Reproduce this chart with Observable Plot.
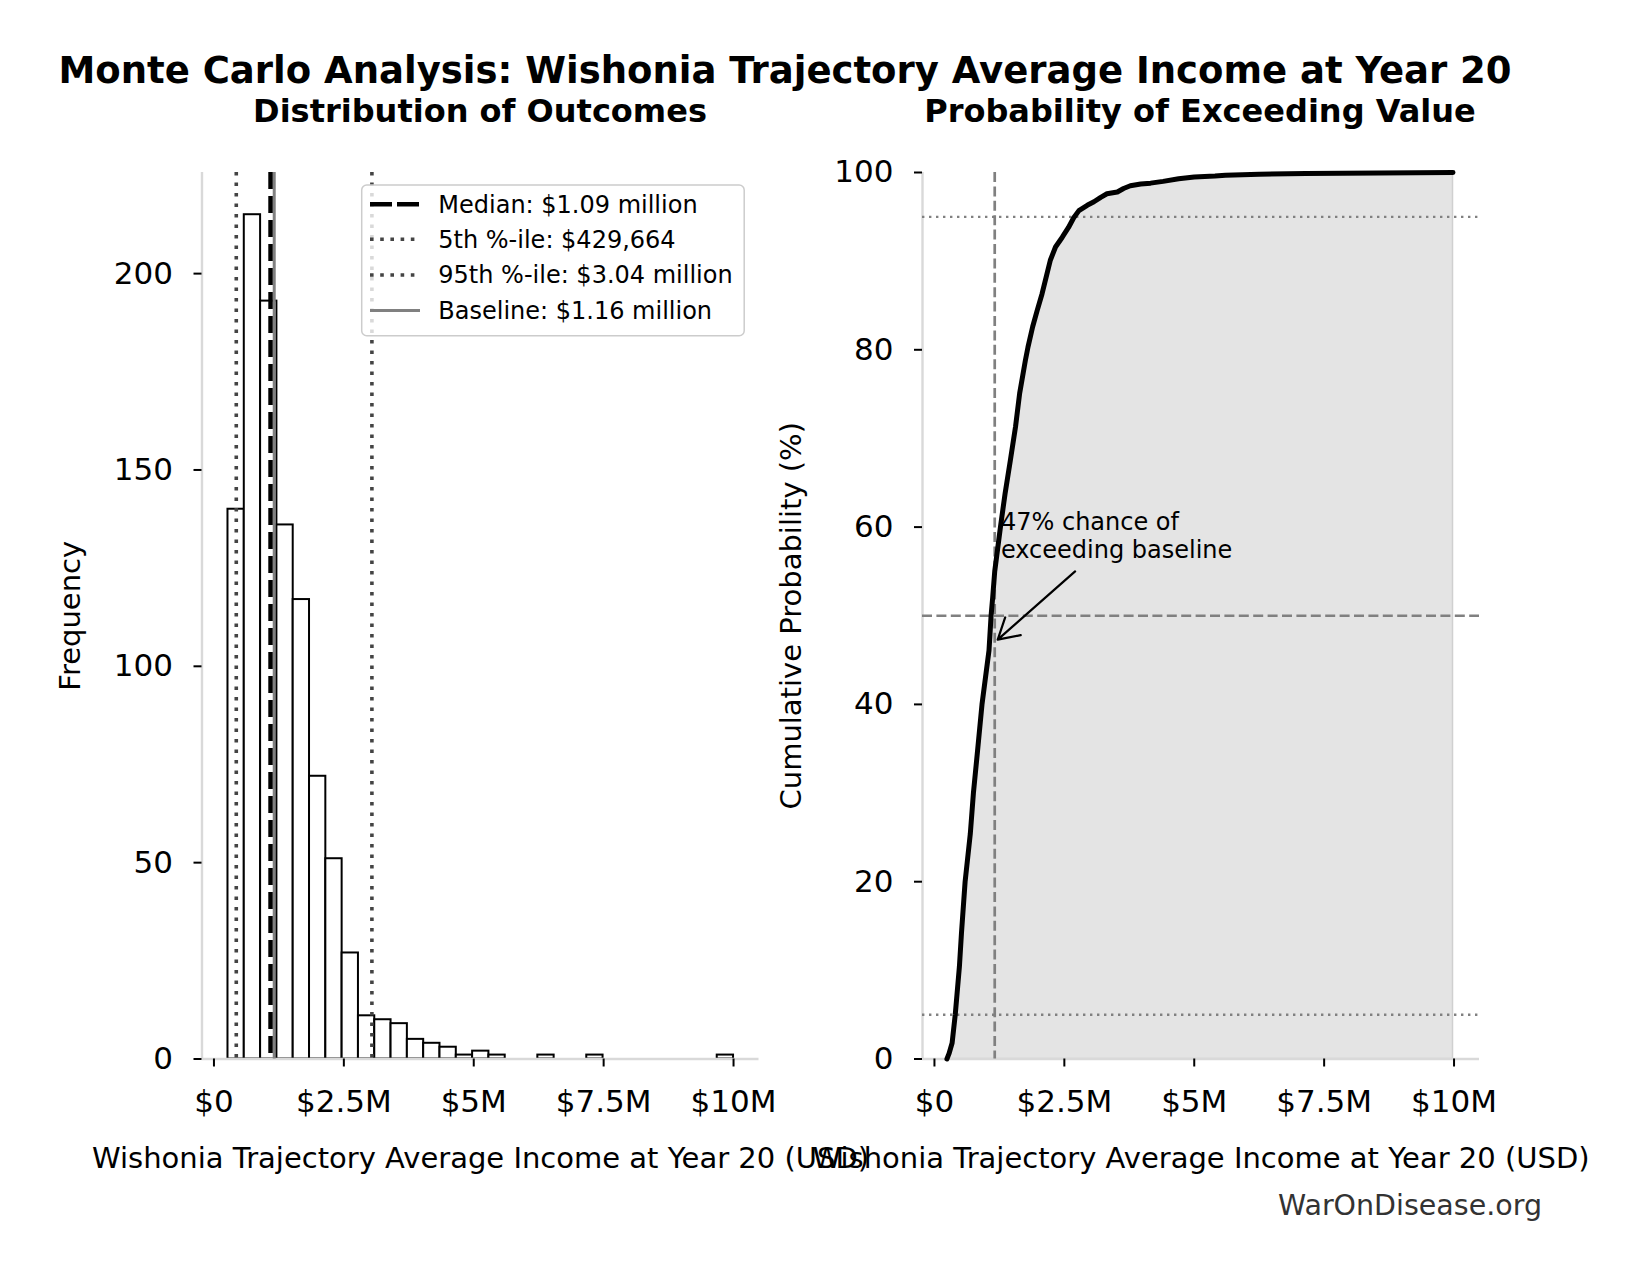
<!DOCTYPE html>
<html>
<head>
<meta charset="utf-8">
<script src="https://cdn.jsdelivr.net/npm/d3@7"></script>
<script src="https://cdn.jsdelivr.net/npm/@observablehq/plot@0.6"></script>
<style>
  html, body { margin: 0; padding: 0; background: #fff; }
  #fig { position: relative; width: 1644px; height: 1280px; background: #fff; overflow: hidden;
         font-family: "DejaVu Sans", sans-serif; color: #000; }
  #fig > svg { position: absolute; left: 0; top: 0; }
  .txt { position: absolute; white-space: nowrap; line-height: 1; }
</style>
</head>
<body>
<div id="fig"></div>
<script>
// ---------------- data ----------------
const mainTitle = "Monte Carlo Analysis: Wishonia Trajectory Average Income at Year 20";
const leftTitle = "Distribution of Outcomes";
const rightTitle = "Probability of Exceeding Value";
const xLabel = "Wishonia Trajectory Average Income at Year 20 (USD)";
const yLabelLeft = "Frequency";
const yLabelRight = "Cumulative Probability (%)";
const sourceText = "WarOnDisease.org";

// histogram (income in $ millions)
const binFirstEdge = 0.27;
const binLastEdge = 10.0;
const binCounts = [140, 215, 193, 136, 117, 72, 51, 27, 11, 10, 9, 5, 4, 3, 1, 2, 1, 0, 0, 1, 0, 0, 1, 0, 0, 0, 0, 0, 0, 0, 1];

// summary statistics ($ millions)
const p5 = 0.429664;
const median = 1.09;
const p95 = 3.04;
const baseline = 1.16;
const legendLabels = ["Median: $1.09 million", "5th %-ile: $429,664", "95th %-ile: $3.04 million", "Baseline: $1.16 million"];

const cdfIncome = [0.24, 0.28, 0.34, 0.40, 0.48, 0.52, 0.59, 0.69, 0.75, 0.83, 0.915, 1.05, 1.09, 1.12, 1.16, 1.27, 1.36, 1.46, 1.56, 1.64, 1.75, 1.80, 1.89, 1.975, 2.07, 2.15, 2.23, 2.33, 2.46, 2.58, 2.68, 2.78, 2.94, 3.07, 3.20, 3.32, 3.52, 3.64, 3.77, 3.97, 4.16, 4.40, 4.70, 5.00, 5.40, 5.60, 6.25, 7.15, 9.98];
const cdfPct    = [0, 0.6, 1.8, 5.0, 10.4, 14.2, 20.0, 25.4, 30.0, 34.8, 40.0, 46.1, 50.0, 52.0, 55.0, 60.0, 63.8, 67.5, 71.3, 75.1, 78.8, 80.3, 82.6, 84.4, 86.3, 88.2, 90.1, 91.6, 92.7, 93.8, 94.9, 95.7, 96.3, 96.7, 97.2, 97.6, 97.8, 98.2, 98.5, 98.7, 98.8, 99.0, 99.3, 99.5, 99.6, 99.7, 99.8, 99.9, 100];

const annotationText = "47% chance of\nexceeding baseline";
const annotationAt = {x: 1.28, y: 60};
const arrowFrom = {x: 2.707, y: 55};
const arrowTo = {x: baseline, y: 47};

const xTicks = [0, 2.5, 5, 7.5, 10];
const yTicksLeft = [0, 50, 100, 150, 200];
const yTicksRight = [0, 20, 40, 60, 80, 100];

// ---------------- build ----------------
const fig = document.getElementById("fig");
const nb = binCounts.length;
const bw = (binLastEdge - binFirstEdge) / nb;
const bins = binCounts.map((c, i) => ({x1: binFirstEdge + i * bw, x2: binFirstEdge + (i + 1) * bw, count: c}))
  .filter(d => d.count > 0);
const cdf = cdfIncome.map((v, i) => ({v, p: cdfPct[i]}));

const xDomain = [-0.23, 10.49];
const fmt = v => v === 0 ? "$0" : "$" + v + "M";
const spine = {stroke: "#d9d9d9", strokeWidth: 2.4};
const FONT = "DejaVu Sans";
const TICK_FS = 31;
const LABEL_FS = 29;

const common = {
  width: 1644, height: 1280,
  marginTop: 172, marginBottom: 221.5,
  x: {domain: xDomain},
  style: {background: "none", fontFamily: FONT, fontSize: "30px", color: "#000", overflow: "visible"}
};

const axisX = () => Plot.axisX({ticks: xTicks, tickFormat: fmt, tickSize: 8, tickPadding: 23, strokeWidth: 2, fontSize: TICK_FS, label: null});
const axisY = (ticks) => Plot.axisY({ticks, tickSize: 8, tickPadding: 21, strokeWidth: 2, fontSize: TICK_FS, label: null});
const xTitle = () => Plot.text([xLabel], {text: d => d, frameAnchor: "bottom", dy: 100, textAnchor: "middle", lineAnchor: "middle", fontSize: LABEL_FS, fill: "#000"});
const yTitle = (lab, dx) => Plot.text([lab], {text: d => d, frameAnchor: "left", dx, rotate: -90, textAnchor: "middle", lineAnchor: "middle", fontSize: LABEL_FS, fill: "#000"});

const left = Plot.plot({
  ...common,
  marginLeft: 201.5, marginRight: 885.5,
  y: {domain: [0, 225.75]},
  marks: [
    Plot.rect(bins, {x1: "x1", x2: "x2", y1: 0, y2: "count", fill: "white", stroke: "black", strokeWidth: 2}),
    Plot.ruleY([0], spine),
    Plot.ruleX([xDomain[0]], spine),
    Plot.ruleX([p5, p95], {stroke: "#444", strokeWidth: 3.6, strokeDasharray: "3.6,6.9"}),
    Plot.ruleX([median], {stroke: "black", strokeWidth: 4.6, strokeDasharray: "17,7"}),
    Plot.ruleX([baseline], {stroke: "#808080", strokeWidth: 3}),
    axisX(),
    axisY(yTicksLeft),
    xTitle(),
    yTitle(yLabelLeft, -131)
  ]
});

const right = Plot.plot({
  ...common,
  marginLeft: 922, marginRight: 165,
  y: {domain: [0, 100]},
  marks: [
    Plot.areaY(cdf, {x: "v", y: "p", fill: "#e4e4e4", stroke: "#d0d0d0", strokeWidth: 1.5}),
    Plot.ruleY([0], spine),
    Plot.ruleX([xDomain[0]], spine),
    Plot.ruleY([5, 95], {stroke: "#808080", strokeWidth: 2.4, strokeDasharray: "2.4,4.6"}),
    Plot.ruleY([50], {stroke: "#808080", strokeWidth: 2.7, strokeDasharray: "10,4.4"}),
    Plot.ruleX([baseline], {stroke: "#808080", strokeWidth: 2.7, strokeDasharray: "10,4.4"}),
    Plot.line(cdf, {x: "v", y: "p", stroke: "black", strokeWidth: 5, strokeLinejoin: "round"}),
    Plot.arrow([{a: arrowFrom, b: arrowTo}], {x1: d => d.a.x, y1: d => d.a.y, x2: d => d.b.x, y2: d => d.b.y,
      stroke: "black", strokeWidth: 2.2, headLength: 16, insetEnd: 4}),
    Plot.text([annotationAt], {x: "x", y: "y", text: () => annotationText, textAnchor: "start", lineAnchor: "top",
      dy: -17, fontSize: 24, lineHeight: 1.16, fill: "#000"}),
    axisX(),
    axisY(yTicksRight),
    xTitle(),
    yTitle(yLabelRight, -130.5)
  ]
});

fig.appendChild(left);
fig.appendChild(right);

// titles / footer
function addText(str, {left, right, top, width, size, weight = "normal", color = "#000", align = "left"}) {
  const d = document.createElement("div");
  d.className = "txt";
  d.textContent = str;
  d.style.top = top + "px";
  if (left !== undefined) d.style.left = left + "px";
  if (right !== undefined) d.style.right = right + "px";
  if (width !== undefined) d.style.width = width + "px";
  d.style.fontSize = size + "px";
  d.style.fontWeight = weight;
  d.style.color = color;
  d.style.textAlign = align;
  fig.appendChild(d);
}
addText(mainTitle, {left: 0, width: 1570, top: 51.5, size: 37, weight: "bold", align: "center"});
addText(leftTitle, {left: 0, width: 960, top: 94.6, size: 32, weight: "bold", align: "center"});
addText(rightTitle, {left: 600, width: 1200, top: 94.6, size: 32, weight: "bold", align: "center"});
addText(sourceText, {right: 102, top: 1192, size: 28.5, color: "#333"});

// legend (upper right of left panel)
const lg = d3.create("svg")
  .attr("width", 400).attr("height", 170)
  .style("position", "absolute").style("left", "355px").style("top", "178px")
  .style("font-family", FONT);
lg.append("rect").attr("x", 6.7).attr("y", 7).attr("width", 382.5).attr("height", 150.7)
  .attr("rx", 5).attr("fill", "rgba(255,255,255,0.8)").attr("stroke", "#cccccc").attr("stroke-width", 1.5);
const rowY = [26.3, 61.3, 97, 132.5];
const sampleStyles = [
  {stroke: "#000", w: 4.6, dash: "22,5"},
  {stroke: "#444", w: 3.6, dash: "3.6,6.6"},
  {stroke: "#444", w: 3.6, dash: "3.6,6.6"},
  {stroke: "#808080", w: 3, dash: null}
];
legendLabels.forEach((lab, i) => {
  const s = sampleStyles[i];
  const ln = lg.append("line").attr("x1", 15).attr("x2", 65).attr("y1", rowY[i]).attr("y2", rowY[i])
    .attr("stroke", s.stroke).attr("stroke-width", s.w);
  if (s.dash) ln.attr("stroke-dasharray", s.dash);
  lg.append("text").attr("x", 83.3).attr("y", rowY[i]).attr("dy", "0.35em")
    .attr("font-size", 24).attr("fill", "#000").text(lab);
});
fig.appendChild(lg.node());
</script>
</body>
</html>
